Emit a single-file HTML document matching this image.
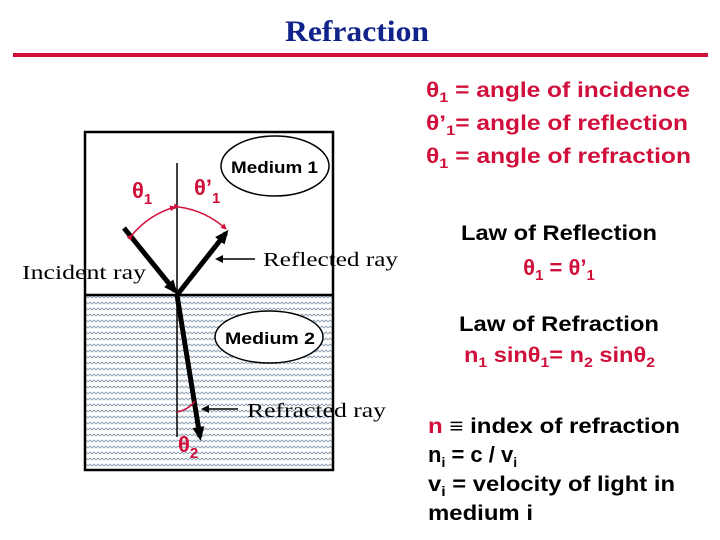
<!DOCTYPE html>
<html><head><meta charset="utf-8"><style>
html,body{margin:0;padding:0;background:#fff;}
body{width:720px;height:540px;position:relative;overflow:hidden;}
svg{position:absolute;left:0;top:0;}
</style></head><body>
<svg width="720" height="540" viewBox="0 0 720 540" xmlns="http://www.w3.org/2000/svg">
<defs>
<pattern id="wv" width="8" height="6" patternUnits="userSpaceOnUse">
<rect width="8" height="6" fill="#fff"/>
<path d="M0 4 L2 2 L4 4 L6 2 L8 4" stroke="#8a9db0" stroke-width="0.9" fill="none"/>
</pattern>
<marker id="ah" markerWidth="8" markerHeight="8" refX="6" refY="4" orient="auto" markerUnits="userSpaceOnUse"><path d="M0 0 L8 4 L0 8 Z" fill="#000"/></marker>
<marker id="big" markerWidth="14" markerHeight="12" refX="10" refY="6" orient="auto" markerUnits="userSpaceOnUse"><path d="M0 0 L14 6 L0 12 Z" fill="#000"/></marker>
<marker id="ra" markerWidth="6" markerHeight="6" refX="5" refY="3" orient="auto" markerUnits="userSpaceOnUse"><path d="M0 0 L6 3 L0 6 Z" fill="#d0103a"/></marker>
</defs>
<text x="285" y="41" textLength="144" lengthAdjust="spacingAndGlyphs" font-family="Liberation Serif" font-weight="bold" font-size="30" fill="#10238a">Refraction</text>
<rect x="13" y="53" width="695" height="4" fill="#d0103a"/>

<rect x="85" y="295" width="248" height="175" fill="url(#wv)"/>
<rect x="85" y="132" width="248" height="338" fill="none" stroke="#000" stroke-width="2.5"/>
<line x1="85" y1="295" x2="333" y2="295" stroke="#000" stroke-width="2.5"/>
<line x1="177" y1="163" x2="177" y2="437" stroke="#000" stroke-width="1.5"/>

<ellipse cx="275" cy="166" rx="54" ry="30" fill="#fff" stroke="#000" stroke-width="1.5"/>
<text x="231" y="173" textLength="87" lengthAdjust="spacingAndGlyphs" font-family="Liberation Sans" font-weight="bold" font-size="17">Medium 1</text>
<ellipse cx="269" cy="337" rx="54" ry="26" fill="#fff" stroke="#000" stroke-width="1.5"/>
<text x="225" y="344" textLength="90" lengthAdjust="spacingAndGlyphs" font-family="Liberation Sans" font-weight="bold" font-size="17">Medium 2</text>

<line x1="124" y1="228" x2="175" y2="291" stroke="#000" stroke-width="5" marker-end="url(#big)"/>
<line x1="177" y1="295" x2="226" y2="233" stroke="#000" stroke-width="5" marker-end="url(#big)"/>
<line x1="177" y1="295" x2="200" y2="437" stroke="#000" stroke-width="5" marker-end="url(#big)"/>

<path d="M132 235 A88 88 0 0 1 175 207" stroke="#d0103a" stroke-width="1.5" fill="none" marker-start="url(#ra)" marker-end="url(#ra)"/>
<path d="M179 207 A88 88 0 0 1 226 229" stroke="#d0103a" stroke-width="1.5" fill="none" marker-start="url(#ra)" marker-end="url(#ra)"/>
<path d="M177 412 Q188 410 195 401" stroke="#d0103a" stroke-width="1.5" fill="none"/>

<g font-family="Liberation Sans" font-weight="bold" fill="#d0103a">
<text x="132" y="198" font-size="22">θ<tspan font-size="15" dy="6">1</tspan></text>
<text x="194" y="195" font-size="22">θ’<tspan font-size="15" dy="8">1</tspan></text>
<text x="178" y="452" font-size="22">θ<tspan font-size="15" dy="6">2</tspan></text>
</g>

<line x1="255" y1="259" x2="217" y2="259" stroke="#000" stroke-width="1.5" marker-end="url(#ah)"/>
<line x1="238" y1="409" x2="203" y2="409" stroke="#000" stroke-width="1.5" marker-end="url(#ah)"/>
<g font-family="Liberation Serif" font-size="20">
<text x="263" y="266" textLength="135" lengthAdjust="spacingAndGlyphs">Reflected ray</text>
<text x="22" y="279" textLength="124" lengthAdjust="spacingAndGlyphs">Incident ray</text>
<text x="247" y="417" textLength="139" lengthAdjust="spacingAndGlyphs">Refracted ray</text>
</g>

<g font-family="Liberation Sans" font-weight="bold" font-size="21" fill="#d0103a">
<text x="426" y="97" textLength="264" lengthAdjust="spacingAndGlyphs">θ<tspan font-size="14" dy="5">1</tspan><tspan dy="-5"> = angle of incidence</tspan></text>
<text x="426" y="130" textLength="262" lengthAdjust="spacingAndGlyphs">θ’<tspan font-size="14" dy="5">1</tspan><tspan dy="-5">= angle of reflection</tspan></text>
<text x="426" y="163" textLength="265" lengthAdjust="spacingAndGlyphs">θ<tspan font-size="14" dy="5">1</tspan><tspan dy="-5"> = angle of refraction</tspan></text>
<text x="559" y="275" text-anchor="middle" font-size="22">θ<tspan font-size="15" dy="5">1</tspan><tspan dy="-5"> = θ’</tspan><tspan font-size="15" dy="5">1</tspan></text>
<text x="464" y="362" textLength="191" lengthAdjust="spacingAndGlyphs">n<tspan font-size="14" dy="5">1</tspan><tspan dy="-5"> sinθ</tspan><tspan font-size="14" dy="5">1</tspan><tspan dy="-5">= n</tspan><tspan font-size="14" dy="5">2</tspan><tspan dy="-5"> sinθ</tspan><tspan font-size="14" dy="5">2</tspan></text>
</g>
<g font-family="Liberation Sans" font-weight="bold" font-size="21" fill="#000">
<text x="461" y="240" textLength="196" lengthAdjust="spacingAndGlyphs">Law of Reflection</text>
<text x="459" y="331" textLength="200" lengthAdjust="spacingAndGlyphs">Law of Refraction</text>
<text x="428" y="433" textLength="252" lengthAdjust="spacingAndGlyphs"><tspan fill="#d0103a">n</tspan> ≡ index of refraction</text>
<text x="428" y="462" font-size="22">n<tspan font-size="14" dy="5">i</tspan><tspan dy="-5"> = c / v</tspan><tspan font-size="14" dy="5">i</tspan></text>
<text x="428" y="491" textLength="247" lengthAdjust="spacingAndGlyphs">v<tspan font-size="14" dy="5">i</tspan><tspan dy="-5"> = velocity of light in</tspan></text>
<text x="428" y="520" textLength="105" lengthAdjust="spacingAndGlyphs">medium i</text>
</g>
</svg>
</body></html>
